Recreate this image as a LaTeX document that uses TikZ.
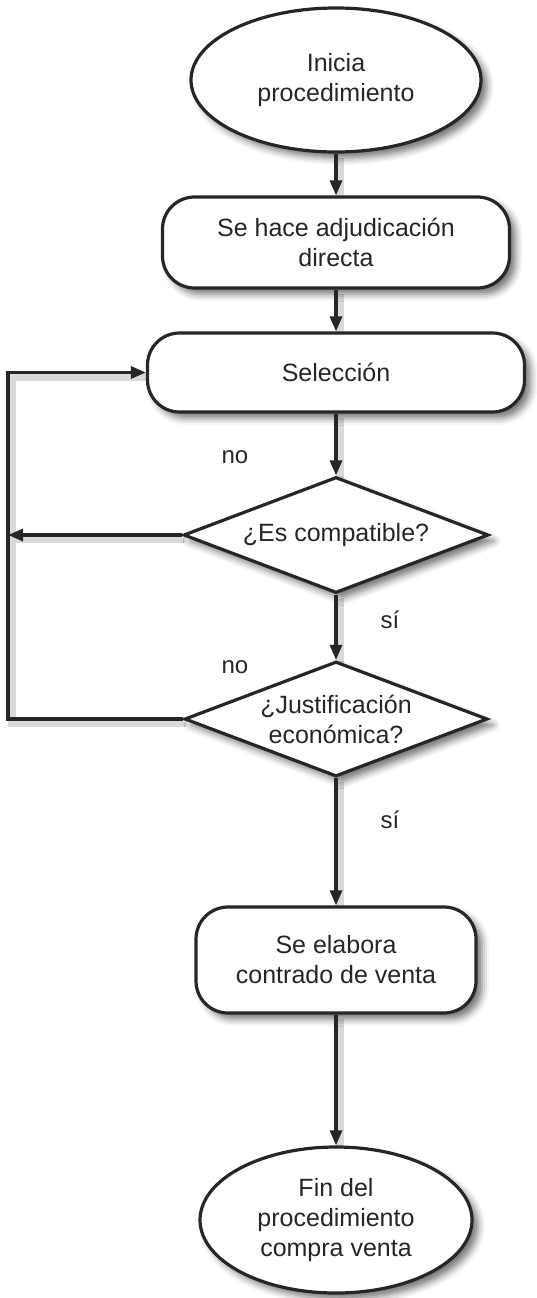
\documentclass[tikz,border=0pt]{standalone}
\usepackage{fontspec}
\setmainfont{Liberation Sans}
\usetikzlibrary{shapes.geometric,arrows.meta,shadows.blur}
\definecolor{ink}{HTML}{262626}
\definecolor{haze}{HTML}{DADADA}
\pgfdeclarelayer{back}
\pgfsetlayers{back,main}
\begin{document}
\begin{tikzpicture}[x=1pt,y=-1pt,
  every node/.style={font=\fontsize{25}{30}\selectfont, text=ink},
  base/.style={draw=ink, line width=3.2pt, fill=white, align=center,
    blur shadow={shadow xshift=6pt, shadow yshift=-6pt,
                 shadow blur radius=7pt, shadow opacity=55}},
  terminal/.style={base, ellipse, inner sep=0pt},
  process/.style={base, rectangle, rounded corners=32pt, inner sep=0pt},
  decision/.style={base, diamond, aspect=2.64, inner sep=0pt},
  flow/.style={draw=ink, line width=3.2pt, line join=miter,
    -{Triangle[length=15pt,width=12pt]}},
  hazeline/.style={draw=haze, line width=8pt},
  tag/.style={font=\fontsize{24}{28}\selectfont},
]
\useasboundingbox (0,0) rectangle (536,1298);

% flowchart boxes
\node[terminal, minimum width=290pt, minimum height=144pt] (start) at (336,80) {Inicia\\procedimiento};
\node[process, minimum width=347pt, minimum height=91pt] (direct) at (336,242.5) {Se hace adjudicación\\directa};
\node[process, minimum width=377pt, minimum height=79pt] (select) at (336,372.5) {Selección};
\node[decision, minimum width=305pt, minimum height=116pt] (compat) at (336,535) {¿Es compatible?};
\node[decision, minimum width=303pt, minimum height=115pt] (justif) at (336,719) {¿Justificación\\económica?};
\node[process, minimum width=280pt, minimum height=106pt] (contract) at (336,960) {Se elabora\\contrado de venta};
\node[terminal, minimum width=272pt, minimum height=146pt] (finish) at (336,1220) {Fin del\\procedimiento\\compra venta};

% return loop corners
\coordinate (loopTop) at (8,372.5);
\coordinate (loopBot) at (8,719);

% soft shade behind the connectors
\begin{pgfonlayer}{back}
\begin{scope}[transform canvas={xshift=4pt,yshift=-4pt}]
  \draw[hazeline] (start) -- (direct);
  \draw[hazeline] (direct) -- (select);
  \draw[hazeline] (select) -- (compat);
  \draw[hazeline] (compat) -- (justif);
  \draw[hazeline] (justif) -- (contract);
  \draw[hazeline] (contract) -- (finish);
  \draw[hazeline] (justif.west) -- (loopBot) -- (loopTop) -- (select.west);
  \draw[hazeline] (compat.west) -- (compat.west -| loopTop);
\end{scope}
\end{pgfonlayer}

% connectors
\draw[flow] (start) -- (direct);
\draw[flow] (direct) -- (select);
\draw[flow] (select) -- (compat);
\draw[flow] (compat) -- (justif);
\draw[flow] (justif) -- (contract);
\draw[flow] (contract) -- (finish);
\draw[flow] (justif.west) -- (loopBot) -- (loopTop) -- (select.west);
\draw[flow] (compat.west) -- (compat.west -| loopTop);

% branch labels
\node[tag] (no1) at (235,457) {no};
\node[tag] (si1) at (390,620) {sí};
\node[tag] (no2) at (235,667) {no};
\node[tag] (si2) at (390,820) {sí};
\end{tikzpicture}
\end{document}
